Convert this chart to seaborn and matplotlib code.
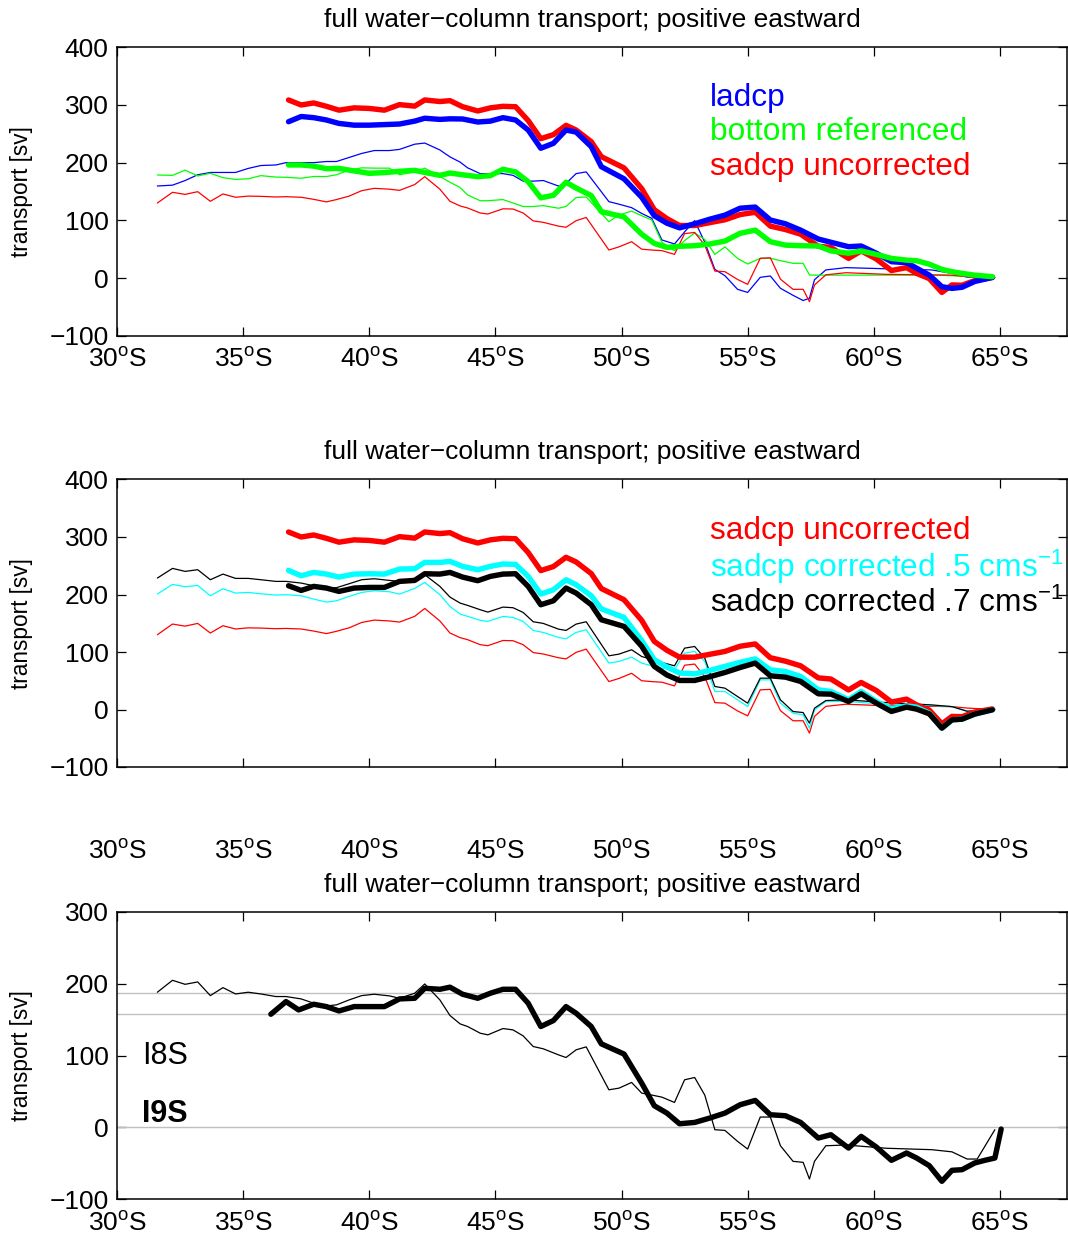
import numpy as np
import pandas as pd
import matplotlib
matplotlib.use("Agg")
import matplotlib.pyplot as plt
import seaborn as sns

# ---------------- data ----------------
# I8S (thin lines) latitude grid, degrees south
lat8 = [31.6, 32.2, 32.7, 33.2, 33.7, 34.2, 34.7, 35.2, 35.7, 36.3,
        36.7, 37.3, 37.8, 38.3, 38.7, 39.2, 39.7, 40.2, 40.8, 41.2,
        41.8, 42.2, 42.8, 43.2, 43.6, 43.9, 44.4, 44.7, 45.3, 45.7,
        46.1, 46.5, 46.9, 47.5, 47.8, 48.2, 48.6, 49.5, 49.9, 50.4,
        50.8, 51.2, 51.6, 52.1, 52.5, 52.9, 53.3, 53.7, 54.1, 54.6,
        55.0, 55.5, 55.9, 56.3, 56.8, 57.2, 57.45, 57.65, 58.1, 58.9,
        60.5, 62.3, 63.1, 63.7, 64.1, 64.8]

i8_ladcp = [159.5, 161, 169, 179, 183, 183, 183, 190, 195, 196,
            200, 200, 200, 202, 202, 209, 216, 221, 221, 223,
            232, 234, 222, 210, 201, 191, 181, 181, 181, 178,
            168, 168, 169, 159.5, 164, 181, 184, 132.4, 128, 122,
            112, 103.5, 66, 59, 80, 99.5, 62, 15, 4, -19.6,
            -25, 1.2, 3.5, -17.8, -30, -39, -35, -3, 14, 18,
            16, 14, 8, 1.5, 1.5, 1]
i8_bottom = [178.6, 178, 187, 177, 181.5, 174, 171, 172, 177.5, 175,
             174.6, 173, 176, 176, 179, 187, 191, 190.5, 190.5, 179,
             184, 190.5, 176, 166, 157, 144, 134, 134, 136, 130,
             124, 124, 125.5, 121, 124, 139.5, 140.5, 97.7, 109.3, 116,
             108, 100.6, 62, 47.4, 65, 78, 67, 41, 54, 34,
             24.3, 34.2, 34.2, 30, 25.5, 25.5, 5.3, 5, 5, 5,
             5, 5, 4, 2.5, 2, 1]
i8_uncorr = [130, 148.6, 145, 149.7, 133, 145.7, 140, 142, 141.6, 140.5,
             141, 140, 136.4, 132, 136, 142, 151.4, 155.5, 154, 152,
             162, 175.7, 154, 133, 125, 121.4, 112.7, 111, 120, 119.6,
             112.7, 99, 96.5, 90, 88, 99.4, 105, 48.6, 54, 63,
             50, 48.5, 47.5, 41, 77, 79, 57, 12, 11, -2.5,
             -11, 34.2, 35, -2, -19.6, -19.6, -41, -12, 5.5, 9.2,
             6.4, 5.5, 5, 2.5, 1.5, 1]
i8_corr5 = [200.7, 217.6, 213.5, 215.8, 197.8, 210, 202.5, 203.6, 201.3, 199,
            199.6, 197.8, 192, 186.8, 189.1, 196.7, 203.6, 206.5, 204.8, 200.7,
            210.6, 221, 199.6, 179.3, 166, 162, 155, 153.2, 161.9, 160.1,
            153.2, 137.5, 134, 125.3, 123, 134, 138.7, 80.7, 83.6, 91,
            80.6, 76, 71.9, 69, 98, 101, 83.5, 31.3, 31.3, 16.8,
            5.2, 51.6, 51.6, 11, -6.4, -9.3, -32.5, -0.6, 13.9, 14,
            9, 7, 5, -3, -2, -0.6]
i8_corr7 = [228.6, 245.4, 240.2, 243.1, 225.7, 235.5, 228, 228, 225.7, 222.8,
            222.8, 219.9, 215.2, 211.2, 211.8, 218.7, 225.7, 227.4, 224.5, 222.8,
            228, 234.4, 214.1, 195.5, 185.1, 181, 173.5, 169.4, 178.1, 177,
            168.8, 152.6, 149.7, 139.8, 137.5, 148.5, 152.6, 93.4, 96.3, 103.9,
            92.2, 87, 81.8, 76, 106.7, 109.6, 89.3, 40, 37.1, 22.6,
            11, 54.5, 54.5, 16.8, -3.5, -5.3, -23.8, 2.3, 15.6, 16.8,
            12, 8, 5, -3, -2, -0.6]
i8_final = [188, 204.6, 199, 202.3, 183.3, 194.4, 185.6, 188, 185.6, 182,
            182, 178.7, 172.7, 169, 170.4, 177.3, 183.3, 185.2, 182.9, 179.6,
            186.6, 199.5, 177.3, 155.6, 144, 140.3, 131, 128.7, 137.5, 135.6,
            127.3, 112.5, 109.3, 100.9, 97.2, 107.9, 112, 52.3, 54.6, 62.5,
            47.7, 45, 42.1, 34.7, 66.2, 69.4, 45, -3.2, -4.2, -19.4,
            -30.1, 14.4, 14.4, -25.5, -47.2, -48.6, -71.8, -47.2, -25.5, -24.5,
            -29, -31, -34, -44, -44, -3.2]

# I9S (thick lines) latitude grid
lat9 = [36.8, 37.3, 37.8, 38.3, 38.8, 39.4, 40.0, 40.6, 41.2, 41.8,
        42.2, 42.8, 43.2, 43.7, 44.3, 44.8, 45.3, 45.8, 46.3, 46.8,
        47.3, 47.8, 48.2, 48.8, 49.2, 50.1, 50.8, 51.3, 51.8, 52.3,
        52.9, 53.5, 54.1, 54.7, 55.3, 55.9, 56.5, 57.1, 57.8, 58.3,
        59.0, 59.5, 60.1, 60.7, 61.3, 61.7, 62.2, 62.7, 63.1, 63.5,
        64.0, 64.7]
i9_uncorr = [308.7, 300, 303.5, 297.7, 291, 295, 294, 291, 300.6, 298,
             308.7, 306, 307.5, 297, 289.6, 295, 297.7, 297, 273, 241.6,
             248.6, 264.7, 256.6, 236.4, 210.4, 190.9, 155, 118.4, 103, 91,
             91, 96, 101, 110, 114, 90, 84, 76, 55, 53,
             34, 47, 33, 13, 18, 8, -1, -25, -12, -12.5,
             -4.5, 1]
i9_ladcp = [271, 280, 278, 274, 268, 265, 265, 266, 267, 272,
            277, 275, 276, 275.7, 270.5, 272, 278, 274, 256.6, 225,
            233.5, 256.6, 253, 227.7, 193, 172, 140, 108, 95, 87,
            94, 102, 109, 121, 123, 100.6, 94, 83, 67.6, 62,
            54.3, 55.5, 43, 28.3, 26.6, 17, 5, -15, -18, -16,
            -6, 1]
i9_bottom = [196, 196, 194, 189.6, 190, 185.7, 181.5, 182.7, 185, 186.7,
             183, 178, 182, 179, 175.7, 177.5, 188.5, 184, 167, 139,
             143.4, 166, 156, 143, 115, 106, 76, 60, 53, 55,
             56, 59, 64, 77.5, 83, 63, 57, 56, 55.5, 47,
             43, 47, 41, 34, 31, 30, 24, 15, 11, 8,
             5, 2.3]
i9_corr5 = [241.9, 232.6, 238.4, 235.5, 230.3, 235.5, 236.1, 235.5, 244.2, 244.8,
            255.8, 255.8, 257.6, 248.9, 243.1, 248.9, 253, 252.4, 231.5, 200.7,
            208.3, 225.7, 217, 197.8, 175, 160, 120, 86.5, 74, 63.5,
            62, 68, 75, 82, 88, 69, 66, 57.5, 34.3, 31.4,
            17, 31.4, 14, 0.6, 6.4, 4, -6.3, -32.4, -18, -16.8,
            -8, -0.6]
i9_corr7 = [215.2, 207.1, 214.1, 211.2, 205.4, 211.2, 212.3, 212.3, 222.8, 224.5,
            236.1, 235.5, 238.4, 230.3, 224, 231.5, 235.5, 236.1, 214.1, 182.2,
            189.1, 211.2, 202.5, 182.2, 156.1, 144.5, 110, 75, 60, 50.5,
            50.5, 57, 64.4, 73, 80.7, 58.6, 56.3, 48.8, 27.3, 26.7,
            14, 27.3, 11, -3.4, 4.1, 0.6, -7.5, -32.4, -18, -16.8,
            -8, -0.6]

lat9b = [36.1, 36.7, 37.2, 37.8, 38.3, 38.8, 39.4, 40.0, 40.6, 41.2,
         41.8, 42.2, 42.8, 43.2, 43.7, 44.3, 44.8, 45.3, 45.8, 46.3,
         46.8, 47.3, 47.8, 48.2, 48.8, 49.2, 50.1, 50.8, 51.3, 51.8,
         52.3, 52.9, 53.5, 54.1, 54.7, 55.3, 55.9, 56.5, 57.1, 57.8,
         58.3, 59.0, 59.5, 60.1, 60.7, 61.3, 61.7, 62.2, 62.7, 63.1,
         63.5, 64.0, 64.4, 64.8, 65.05]
i9_final = [157.4, 175, 163.4, 171.3, 168, 162, 168, 168, 168, 178.7,
            179.6, 193.5, 192.1, 195, 185.2, 179.6, 186.6, 192.1, 192.1, 172.7,
            140.3, 148.6, 168, 158.8, 140.3, 116.2, 102, 61.6, 30.1, 19.9,
            5.1, 6.9, 13, 19.9, 31.5, 37.5, 17.6, 16.2, 6.9, -14.8,
            -10.2, -28.7, -12.5, -27.3, -45.8, -35.6, -42.6, -53.2, -75, -59.7,
            -58.8, -49.5, -45.8, -42.6, -2.3]

ref_lines = [0, 157.4, 186.6]

xtick_vals = [30, 35, 40, 45, 50, 55, 60, 65]
xtick_labels = [f"{v}$^{{\\rm o}}$S" for v in xtick_vals]
title_txt = "full water\u2212column transport; positive eastward"

# ---------------- style ----------------
sns.set_style("ticks")
plt.rcParams["font.family"] = ["Liberation Sans", "DejaVu Sans"]
plt.rcParams["mathtext.fontset"] = "custom"
plt.rcParams["mathtext.rm"] = "Liberation Sans"
plt.rcParams["mathtext.it"] = "Liberation Sans:italic"
plt.rcParams["mathtext.bf"] = "Liberation Sans:bold"
plt.rcParams["text.color"] = "black"
plt.rcParams["axes.labelcolor"] = "black"
plt.rcParams["axes.titlecolor"] = "black"

W, H = 1068, 1237
fig = plt.figure(figsize=(W / 100, H / 100), dpi=100)


def make_ax(top_px, bot_px):
    return fig.add_axes([117 / W, 1 - bot_px / H, 950 / W, (bot_px - top_px) / H])


ax1 = make_ax(47.3, 335.7)
ax2 = make_ax(479.5, 767.0)
ax3 = make_ax(911.7, 1199.3)

THIN = 0.9
THICK = 3.9
LEG = 22.8


def line(ax, x, y, color, lw, z=2):
    sns.lineplot(x=x, y=y, ax=ax, color=color, linewidth=lw, estimator=None,
                 sort=False, legend=False, zorder=z)


def style(ax, ylim, yticks, xpad):
    ax.set_xlim(30, 67.66)
    ax.set_ylim(*ylim)
    ax.set_xticks(xtick_vals)
    ax.set_xticklabels(xtick_labels)
    ax.set_yticks(yticks)
    ax.tick_params(direction="in", length=6.5, width=0.9, top=True, right=True,
                   labelsize=19, colors="black")
    ax.tick_params(axis="x", pad=xpad)
    ax.tick_params(axis="y", pad=6)
    for s in ax.spines.values():
        s.set_linewidth(1.1)
        s.set_color("black")
        s.set_visible(True)
    ax.set_xlabel("")
    ax.set_ylabel("transport [sv]", fontsize=16.3, labelpad=12, color="black")
    ax.set_title(title_txt, fontsize=19, pad=14.5, color="black")


# top panel
line(ax1, lat8, i8_ladcp, "blue", THIN)
line(ax1, lat8, i8_bottom, "#00ff00", THIN)
line(ax1, lat8, i8_uncorr, "red", THIN)
line(ax1, lat9, i9_uncorr, "red", THICK, 3)
line(ax1, lat9, i9_ladcp, "blue", THICK, 3)
line(ax1, lat9, i9_bottom, "#00ff00", THICK, 3)
style(ax1, (-100, 400), [-100, 0, 100, 200, 300, 400], 9)
ax1.text(53.5, 312, "ladcp", color="blue", fontsize=LEG, va="center")
ax1.text(53.5, 253, "bottom referenced", color="#00ff00", fontsize=LEG, va="center")
ax1.text(53.5, 193, "sadcp uncorrected", color="red", fontsize=LEG, va="center")

# middle panel
line(ax2, lat8, i8_uncorr, "red", THIN)
line(ax2, lat8, i8_corr5, "cyan", THIN)
line(ax2, lat8, i8_corr7, "black", THIN)
line(ax2, lat9, i9_uncorr, "red", THICK, 3)
line(ax2, lat9, i9_corr5, "cyan", THICK, 3)
line(ax2, lat9, i9_corr7, "black", THICK, 3)
style(ax2, (-100, 400), [-100, 0, 100, 200, 300, 400], 52.5)
ax2.text(53.5, 311, "sadcp uncorrected", color="red", fontsize=LEG, va="center")
ax2.text(53.5, 248, "sadcp corrected .5 cms$^{-1}$", color="cyan", fontsize=LEG, va="center")
ax2.text(53.5, 187, "sadcp corrected .7 cms$^{-1}$", color="black", fontsize=LEG, va="center")

# bottom panel
for r in ref_lines:
    ax3.axhline(r, color="#c0c0c0", linewidth=1.0, zorder=1)
line(ax3, lat8, i8_final, "black", THIN)
line(ax3, lat9b, i9_final, "black", THICK, 3)
style(ax3, (-100, 300), [-100, 0, 100, 200, 300], 9)
ax3.text(31.0, 99, "I8S", color="black", fontsize=22, va="center")
ax3.text(31.0, 18, "I9S", color="black", fontsize=22, va="center", fontweight="bold")

fig.savefig("out.png", dpi=100)
